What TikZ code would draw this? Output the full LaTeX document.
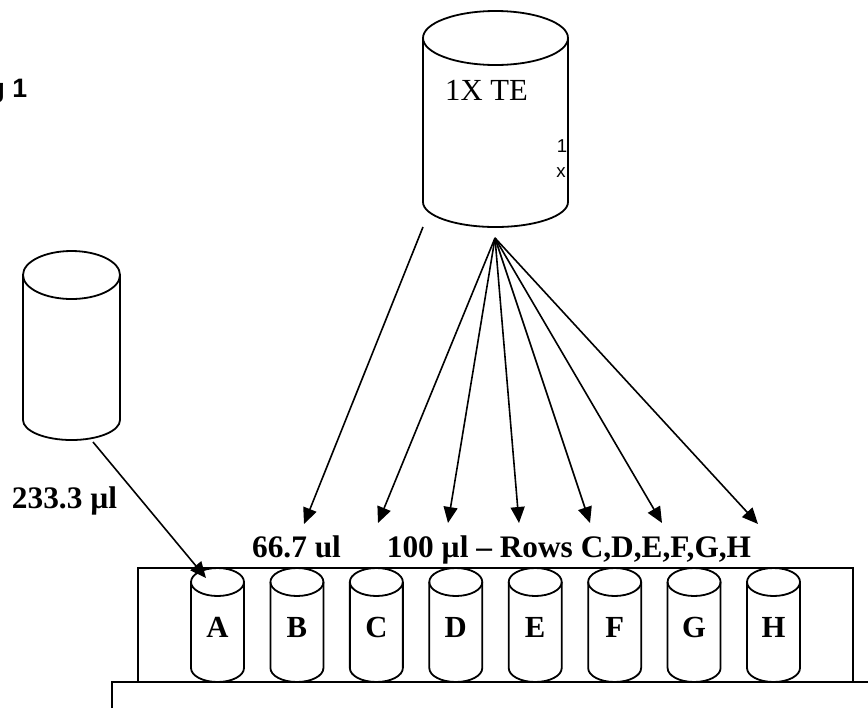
\documentclass[tikz,border=0pt]{standalone}
\usepackage{fontspec}
\setmainfont{Liberation Serif}
\newfontfamily\arialfont{Liberation Sans}
\usetikzlibrary{arrows.meta}
\newcommand\mycyl[6]{% cx, top centre y, bottom centre y, rx, ry top, ry bottom
  \draw (#1,#2) ellipse [x radius=#4, y radius=#5];
  \draw (#1-#4,#2) -- (#1-#4,#3) arc[start angle=180, end angle=360, x radius=#4, y radius=#6] -- (#1+#4,#2);
}
\begin{document}
\begin{tikzpicture}[x=0.75pt,y=0.75pt,
  line width=1.35pt,
  arr/.style={-{Triangle[length=12pt,width=10.5pt]}, line width=1.2pt},
  lbl/.style={font=\fontsize{23.5}{27}\selectfont\bfseries, anchor=base, inner sep=0},
  tubelbl/.style={font=\fontsize{23}{27}\selectfont\bfseries, anchor=base, inner sep=0},
  small/.style={font=\arialfont\fontsize{14}{18}\selectfont, anchor=base, inner sep=0}]
\useasboundingbox (0,0) rectangle (868,-708);
\clip (0,0) rectangle (868,-708);

% top-left caption (cut off at the left edge)
\node[font=\arialfont\bfseries\fontsize{20}{24}\selectfont, anchor=base east, inner sep=0] (fig) at (28,-97) {g 1};

% 1X TE bottle
\mycyl{495.5}{-38}{-202}{72.5}{27}{25}
\node[font=\fontsize{23}{27}\selectfont, anchor=base, inner sep=0] (te) at (486.5,-100) {1X TE};
\node[small] (one) at (562,-152) {1};
\node[small] (ex) at (561,-177) {x};

% left bottle
\mycyl{71.5}{-275}{-420}{48.5}{24}{20}

% rack
\draw (138,-682) rectangle (853,-568);
\draw (112,-708) -- (112,-682) -- (868,-682);
\foreach \L [count=\i from 0] in {A,B,C,D,E,F,G,H}{
  \pgfmathsetmacro\cx{217.5+79.43*\i}
  \mycyl{\cx}{-582}{-668}{26.5}{14}{14}
  \node[tubelbl] (t\L) at (\cx,-637) {\L};
}

% labels
\node[lbl] (l233) at (64.5,-508) {233.3 µl};
\node[lbl] (l66) at (296.5,-557) {66.7 ul};
\node[lbl] (l100) at (569,-557) {100 µl – Rows C,D,E,F,G,H};

% connectors
\coordinate (src) at (93,-442);
\coordinate (tipA) at (206,-578);
\draw[arr] (src) -- (tipA);

\coordinate (teL) at (423,-227);
\coordinate (tipB) at (304,-524);
\draw[arr] (teL) -- (tipB);

\coordinate (apex) at (495,-238);
\coordinate (tip1) at (378,-523);
\coordinate (tip2) at (448,-523);
\coordinate (tip3) at (519,-523);
\coordinate (tip4) at (590,-523);
\coordinate (tip5) at (662,-523);
\coordinate (tip6) at (758,-524);
\foreach \k in {1,...,6}{\draw[arr] (apex) -- (tip\k);}
\end{tikzpicture}
\end{document}
